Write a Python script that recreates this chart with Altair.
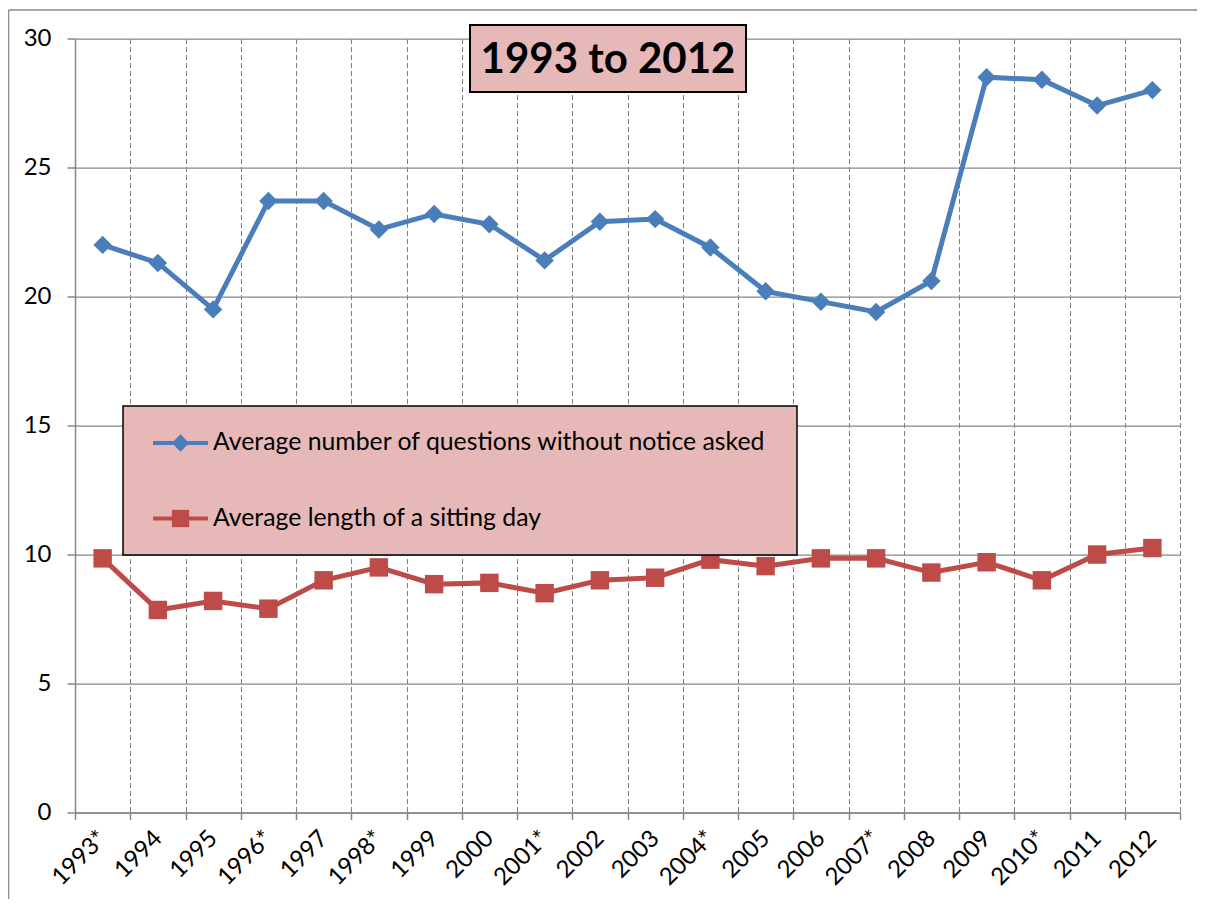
import altair as alt
import pandas as pd

years = ["1993*", "1994", "1995", "1996*", "1997", "1998*", "1999", "2000", "2001*", "2002",
         "2003", "2004*", "2005", "2006", "2007*", "2008", "2009", "2010*", "2011", "2012"]
questions = [22.0, 21.3, 19.5, 23.7, 23.7, 22.6, 23.2, 22.8, 21.4, 22.9,
             23.0, 21.9, 20.2, 19.8, 19.4, 20.6, 28.5, 28.4, 27.4, 28.0]
sitting = [9.85, 7.85, 8.2, 7.9, 9.0, 9.5, 8.85, 8.9, 8.5, 9.0,
           9.1, 9.8, 9.55, 9.85, 9.85, 9.3, 9.7, 9.0, 10.0, 10.25]
series_names = ["Average number of questions without notice asked",
                "Average length of a sitting day"]
series_colors = ["#4A7EBB", "#BE4B48"]
series_shapes = ["diamond", "square"]
title_text = "1993 to 2012"
y_ticks = [0, 5, 10, 15, 20, 25, 30]

rows = []
for name, vals in zip(series_names, [questions, sitting]):
    for yr, v in zip(years, vals):
        rows.append({"year": yr, "value": v, "series": name})
df = pd.DataFrame(rows)

FONT = "Lato"
GRID = "#878787"
PINK = "#E6B9B8"

x_enc = alt.X(
    "year:N", sort=years,
    scale=alt.Scale(type="band", paddingInner=0, paddingOuter=0),
    axis=alt.Axis(title=None, labelAngle=315, labelAlign="right", labelBaseline="middle",
                  labelPadding=15, tickSize=7, tickBand="extent", grid=True,
                  gridDash=[5, 3], gridColor="#7f7f7f", gridWidth=1,
                  domainColor=GRID, domainWidth=1.5, tickColor=GRID, tickWidth=1.5,
                  labelFont=FONT, labelFontSize=24, labelColor="black"),
)
y_enc = alt.Y(
    "value:Q",
    scale=alt.Scale(domain=[0, 30], nice=False),
    axis=alt.Axis(values=y_ticks, title=None, tickSize=8, labelPadding=16, grid=True,
                  gridColor=GRID, gridWidth=1.25, domainColor=GRID, domainWidth=1.5,
                  tickColor=GRID, tickWidth=1.5, labelFont=FONT, labelFontSize=24,
                  labelColor="black"),
)
color_enc = alt.Color("series:N", scale=alt.Scale(domain=series_names, range=series_colors),
                      legend=None)
shape_enc = alt.Shape("series:N", scale=alt.Scale(domain=series_names, range=series_shapes),
                      legend=None)

base = alt.Chart(df)
lines = base.mark_line(strokeWidth=5).encode(x=x_enc, y=y_enc, color=color_enc)
points = base.mark_point(filled=True, size=340, opacity=1).encode(
    x=x_enc, y=y_enc, color=color_enc, shape=shape_enc)

one = pd.DataFrame({"t": [title_text]})

# outer chart border
border_left = alt.Chart(one).mark_rule(color="#8a8a8a", strokeWidth=1.5).encode(
    x=alt.value(-66.5), y=alt.value(-28.5), y2=alt.value(880))
border_top = alt.Chart(one).mark_rule(color="#8a8a8a", strokeWidth=1.5).encode(
    x=alt.value(-66.5), x2=alt.value(1122), y=alt.value(-28.5))

# title box
title_box = alt.Chart(one).mark_rect(fill=PINK, stroke="black", strokeWidth=2).encode(
    x=alt.value(395), x2=alt.value(671), y=alt.value(-13.5), y2=alt.value(53.5))
title_txt = alt.Chart(one).mark_text(font=FONT, fontWeight="bold", fontSize=42,
                                     color="black", align="center", baseline="middle").encode(
    x=alt.value(533), y=alt.value(21), text="t:N")

# legend box
legend_box = alt.Chart(one).mark_rect(fill=PINK, stroke="black", strokeWidth=1.5).encode(
    x=alt.value(48), x2=alt.value(722), y=alt.value(367.5), y2=alt.value(516.5))
legend_layers = [legend_box]
for i, (name, col, shp) in enumerate(zip(series_names, series_colors, series_shapes)):
    ly = 404.5 + i * 75.5
    ldf = pd.DataFrame({"t": [name]})
    legend_layers.append(alt.Chart(ldf).mark_rule(color=col, strokeWidth=4).encode(
        x=alt.value(78), x2=alt.value(133), y=alt.value(ly)))
    legend_layers.append(alt.Chart(ldf).mark_point(shape=shp, filled=True, size=300,
                                                   opacity=1, color=col).encode(
        x=alt.value(105.5), y=alt.value(ly)))
    legend_layers.append(alt.Chart(ldf).mark_text(font=FONT, fontSize=24.8, color="black",
                                                  align="left", baseline="middle").encode(
        x=alt.value(138), y=alt.value(ly), text="t:N"))

chart = alt.layer(
    lines, points, border_left, border_top, title_box, title_txt, *legend_layers
).properties(
    width=1105, height=774,
    padding={"left": 67, "top": 30.5, "right": 17, "bottom": 86},
    autosize=alt.AutoSizeParams(type="none"),
    background="white",
).configure_view(strokeWidth=0)

chart.save("out.html", embed_options={"renderer": "svg", "actions": False})
